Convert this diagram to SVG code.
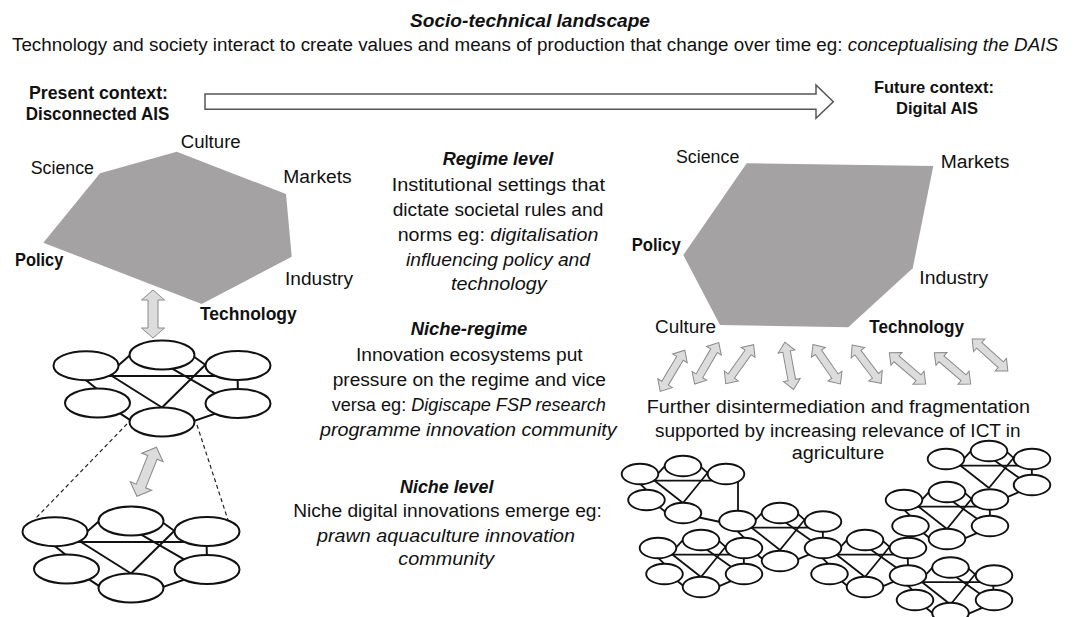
<svg xmlns="http://www.w3.org/2000/svg" xmlns:xlink="http://www.w3.org/1999/xlink" width="1077" height="617" viewBox="0 0 1077 617">
<style>
text{font-family:"Liberation Sans",Arial,sans-serif;font-size:18px;fill:#111}
.b{font-weight:bold}
.i{font-style:italic}
.bi{font-weight:bold;font-style:italic}
.m{text-anchor:middle}
.hex{fill:#a4a2a2;stroke:none}
.ln{stroke:#111;stroke-width:2;fill:none}
.lnr{stroke:#111;stroke-width:1.8;fill:none}
.el{fill:#fff;stroke:#111;stroke-width:2}
.elr{fill:#fff;stroke:#111;stroke-width:1.9}
.dash{stroke:#222;stroke-width:1.2;stroke-dasharray:4 3;fill:none}
.ga{fill:#dcdcdc;stroke:#8a8a8a;stroke-width:1}
</style>
<defs>
<g id="netL">
<g class="ln">
<line x1="-60" y1="21" x2="60" y2="21"/>
<line x1="-50" y1="16" x2="-25" y2="-6"/>
<line x1="25" y1="-3.3" x2="52" y2="16"/>
<line x1="-58" y1="16" x2="0" y2="52.5"/>
<line x1="50" y1="3.2" x2="0" y2="52.5"/>
<line x1="5" y1="10.6" x2="60" y2="42.3"/>
<line x1="-80" y1="22" x2="-60" y2="38"/>
<line x1="75.5" y1="20" x2="76" y2="40"/>
<line x1="-48" y1="54.3" x2="-25" y2="69.6"/>
<line x1="25" y1="68.4" x2="58" y2="57"/>
</g>
<g class="el">
<ellipse cx="-76" cy="10.7" rx="32.5" ry="14.5"/>
<ellipse cx="0" cy="0" rx="32.5" ry="14.5"/>
<ellipse cx="76" cy="10.5" rx="32.5" ry="14.5"/>
<ellipse cx="-64.5" cy="48" rx="32.5" ry="14.5"/>
<ellipse cx="76" cy="48.5" rx="32.5" ry="14.5"/>
<ellipse cx="0" cy="67" rx="32.5" ry="14.5"/>
</g>
</g>
<g id="rTop">
<line x1="-34" y1="14.7" x2="34" y2="14.7"/>
<line x1="-28.3" y1="11.2" x2="-14.2" y2="-4.2"/>
<line x1="14.2" y1="-2.3" x2="29.4" y2="11.2"/>
<line x1="-32.8" y1="11.2" x2="0" y2="37"/>
<line x1="28.3" y1="2.2" x2="0" y2="37"/>
</g>
<g id="rD">
<line x1="-45.3" y1="15.4" x2="-34" y2="26.6"/>
<line x1="-27.2" y1="38" x2="-14.2" y2="48.7"/>
</g>
<g id="rE">
<line x1="2.8" y1="7.4" x2="34" y2="29.6"/>
<line x1="42.7" y1="14" x2="43" y2="28"/>
<line x1="14.2" y1="47.9" x2="32.8" y2="39.9"/>
</g>
<path id="arB" d="M0,-24 L11.5,-14 L5,-14 L5,14 L11.5,14 L0,24 L-11.5,14 L-5,14 L-5,-14 L-11.5,-14 Z"/>
<path id="arS" d="M0,-24 L8.5,-14.5 L3.8,-14.5 L3.8,14.5 L8.5,14.5 L0,24 L-8.5,14.5 L-3.8,14.5 L-3.8,-14.5 L-8.5,-14.5 Z"/>
</defs>

<g id="landscape">
<text class="bi m" x="530" y="27" textLength="240" lengthAdjust="spacingAndGlyphs">Socio-technical landscape</text>
<text class="m" x="535" y="51" textLength="1046" lengthAdjust="spacingAndGlyphs">Technology and society interact to create values and means of production that change over time eg: <tspan class="i">conceptualising the DAIS</tspan></text>
</g>

<g id="present-context">
<text class="b m" x="98.5" y="99" textLength="139" lengthAdjust="spacingAndGlyphs">Present context:</text>
<text class="b m" x="97.5" y="119.5" textLength="143.6" lengthAdjust="spacingAndGlyphs">Disconnected AIS</text>
</g>
<g id="future-context">
<text class="b m" x="934" y="93" style="font-size:16.5px">Future context:</text>
<text class="b m" x="937" y="114" style="font-size:16.5px">Digital AIS</text>
</g>

<g id="connectors">
<polygon points="205,94 816,94 816,85 833.3,101.7 816,118.3 816,109.3 205,109.3" fill="#fff" stroke="#555" stroke-width="1.5"/>
<line class="dash" x1="127" y1="424" x2="35" y2="519"/>
<line class="dash" x1="197" y1="425" x2="228" y2="520"/>
<use href="#arB" class="ga" transform="translate(153,314)"/>
<use href="#arB" class="ga" transform="translate(146.7,471.7) rotate(21.8) scale(1,1.1)"/>
<use href="#arS" class="ga" transform="translate(672.5,370.8) rotate(30.9)"/>
<use href="#arS" class="ga" transform="translate(706.7,363.3) rotate(30.2)"/>
<use href="#arS" class="ga" transform="translate(739.7,364.2) rotate(35.5)"/>
<use href="#arS" class="ga" transform="translate(789.2,365.8) rotate(-10.5)"/>
<use href="#arS" class="ga" transform="translate(826.7,364.2) rotate(-34.9)"/>
<use href="#arS" class="ga" transform="translate(866.7,364.2) rotate(-37.3)"/>
<use href="#arS" class="ga" transform="translate(907.5,368.3) rotate(-49.4)"/>
<use href="#arS" class="ga" transform="translate(952.5,368.3) rotate(-49.4)"/>
<use href="#arS" class="ga" transform="translate(990,355) rotate(-48)"/>
</g>

<g id="regime-present">
<polygon class="hex" points="100,173.3 176.7,151.7 286,194 291.7,256.7 201.7,304 43.3,242.7"/>
<text x="30.7" y="174.3" textLength="63.3" lengthAdjust="spacingAndGlyphs">Science</text>
<text x="180.7" y="147.7" textLength="60" lengthAdjust="spacingAndGlyphs">Culture</text>
<text x="283.3" y="183.3" textLength="68.4" lengthAdjust="spacingAndGlyphs">Markets</text>
<text x="285" y="285" textLength="68" lengthAdjust="spacingAndGlyphs">Industry</text>
<text class="b" x="15" y="265.7" textLength="48.3" lengthAdjust="spacingAndGlyphs">Policy</text>
<text class="b" x="200" y="320" textLength="96.7" lengthAdjust="spacingAndGlyphs">Technology</text>
</g>

<g id="regime-future">
<polygon class="hex" points="746.7,163.3 933.3,166 912.7,268.3 848.3,327.3 720,325 683.3,255"/>
<text x="676" y="163.3" textLength="63.3" lengthAdjust="spacingAndGlyphs">Science</text>
<text x="940.7" y="168.3" textLength="68.6" lengthAdjust="spacingAndGlyphs">Markets</text>
<text class="b" x="631.7" y="250.7" textLength="49" lengthAdjust="spacingAndGlyphs">Policy</text>
<text x="919.3" y="284" textLength="69" lengthAdjust="spacingAndGlyphs">Industry</text>
<text x="655" y="333.3" textLength="61" lengthAdjust="spacingAndGlyphs">Culture</text>
<text class="b" x="869.3" y="333.3" textLength="94.7" lengthAdjust="spacingAndGlyphs">Technology</text>
</g>

<g id="regime-text">
<text class="bi m" x="498" y="165" textLength="110.6" lengthAdjust="spacingAndGlyphs">Regime level</text>
<text class="m" x="498.3" y="191" textLength="213.3" lengthAdjust="spacingAndGlyphs">Institutional settings that</text>
<text class="m" x="498" y="216" textLength="210.6" lengthAdjust="spacingAndGlyphs">dictate societal rules and</text>
<text class="m" x="498" y="241" textLength="200.6" lengthAdjust="spacingAndGlyphs">norms eg: <tspan class="i">digitalisation</tspan></text>
<text class="m i" x="498" y="266" textLength="184" lengthAdjust="spacingAndGlyphs">influencing policy and</text>
<text class="m i" x="498.8" y="290" textLength="95.7" lengthAdjust="spacingAndGlyphs">technology</text>
</g>

<g id="niche-regime-text">
<text class="bi m" x="469" y="335" textLength="116.6" lengthAdjust="spacingAndGlyphs">Niche-regime</text>
<text class="m" x="469.3" y="360.7" textLength="226.7" lengthAdjust="spacingAndGlyphs">Innovation ecosystems put</text>
<text class="m" x="469.3" y="386" textLength="273.3" lengthAdjust="spacingAndGlyphs">pressure on the regime and vice</text>
<text class="m" x="468.8" y="411" textLength="274.3" lengthAdjust="spacingAndGlyphs">versa eg: <tspan class="i">Digiscape FSP research</tspan></text>
<text class="m i" x="468.3" y="436" textLength="296.7" lengthAdjust="spacingAndGlyphs">programme innovation community</text>
</g>

<g id="niche-text">
<text class="bi m" x="446.7" y="492.7" textLength="93.3" lengthAdjust="spacingAndGlyphs">Niche level</text>
<text class="m" x="447.5" y="516.5" textLength="308.7" lengthAdjust="spacingAndGlyphs">Niche digital innovations emerge eg:</text>
<text class="m i" x="446" y="541.5" textLength="258" lengthAdjust="spacingAndGlyphs">prawn aquaculture innovation</text>
<text class="m i" x="446.2" y="565" textLength="95.7" lengthAdjust="spacingAndGlyphs">community</text>
</g>

<g id="future-text">
<text class="m" x="838.3" y="412.7" textLength="383.3" lengthAdjust="spacingAndGlyphs">Further disintermediation and fragmentation</text>
<text class="m" x="837.8" y="437.3" textLength="365.7" lengthAdjust="spacingAndGlyphs">supported by increasing relevance of ICT in</text>
<text class="m" x="838" y="459" textLength="92.6" lengthAdjust="spacingAndGlyphs">agriculture</text>
</g>

<g id="niche-network-present">
<use href="#netL" transform="translate(162,355)"/>
</g>
<g id="niche-network-present-lower">
<use href="#netL" transform="translate(131,521)"/>
</g>

<g id="niche-network-future">
<g class="lnr">
<g transform="translate(683,466)"><use href="#rTop"/><use href="#rD"/></g>
<line x1="738" y1="480" x2="738" y2="515"/>
<line x1="697" y1="517" x2="725" y2="523"/>
<g transform="translate(780,513)"><use href="#rTop"/><use href="#rD"/><use href="#rE"/></g>
<g transform="translate(701,540)"><use href="#rTop"/><use href="#rD"/><use href="#rE"/></g>
<g transform="translate(865,540)"><use href="#rTop"/><use href="#rD"/><use href="#rE"/></g>
<g transform="translate(950.5,567.5)"><use href="#rTop"/><use href="#rD"/><use href="#rE"/></g>
<g transform="translate(947,492)"><use href="#rTop"/><use href="#rD"/><use href="#rE"/></g>
<g transform="translate(989,451)"><use href="#rTop"/><use href="#rE"/></g>
</g>
<g class="elr">
<ellipse cx="640" cy="474" rx="18.3" ry="10.3"/>
<ellipse cx="683" cy="466" rx="18.3" ry="10.3"/>
<ellipse cx="726" cy="474" rx="18.3" ry="10.3"/>
<ellipse cx="646.5" cy="500" rx="18.3" ry="10.3"/>
<ellipse cx="683" cy="513" rx="18.3" ry="10.3"/>
<ellipse cx="737.5" cy="521" rx="18.3" ry="10.3"/>
<ellipse cx="780" cy="513" rx="18.3" ry="10.3"/>
<ellipse cx="823" cy="521.5" rx="18.3" ry="10.3"/>
<ellipse cx="823" cy="548" rx="18.3" ry="10.3"/>
<ellipse cx="780" cy="561" rx="18.3" ry="10.3"/>
<ellipse cx="658" cy="548" rx="18.3" ry="10.3"/>
<ellipse cx="701" cy="540" rx="18.3" ry="10.3"/>
<ellipse cx="744" cy="548" rx="18.3" ry="10.3"/>
<ellipse cx="664.5" cy="574" rx="18.3" ry="10.3"/>
<ellipse cx="744" cy="574" rx="18.3" ry="10.3"/>
<ellipse cx="701" cy="587" rx="18.3" ry="10.3"/>
<ellipse cx="865" cy="540" rx="18.3" ry="10.3"/>
<ellipse cx="908" cy="548" rx="18.3" ry="10.3"/>
<ellipse cx="829.5" cy="574" rx="18.3" ry="10.3"/>
<ellipse cx="908" cy="575.5" rx="18.3" ry="10.3"/>
<ellipse cx="865" cy="587" rx="18.3" ry="10.3"/>
<ellipse cx="950.5" cy="567.5" rx="18.3" ry="10.3"/>
<ellipse cx="994" cy="575.5" rx="18.3" ry="10.3"/>
<ellipse cx="915" cy="600" rx="18.3" ry="10.3"/>
<ellipse cx="994" cy="600" rx="18.3" ry="10.3"/>
<ellipse cx="950.5" cy="613" rx="18.3" ry="10.3"/>
<ellipse cx="904" cy="500" rx="18.3" ry="10.3"/>
<ellipse cx="947" cy="492" rx="18.3" ry="10.3"/>
<ellipse cx="990" cy="499.5" rx="18.3" ry="10.3"/>
<ellipse cx="910.5" cy="526" rx="18.3" ry="10.3"/>
<ellipse cx="990" cy="526" rx="18.3" ry="10.3"/>
<ellipse cx="947" cy="539" rx="18.3" ry="10.3"/>
<ellipse cx="946" cy="459" rx="18.3" ry="10.3"/>
<ellipse cx="989" cy="451" rx="18.3" ry="10.3"/>
<ellipse cx="1032" cy="459" rx="18.3" ry="10.3"/>
<ellipse cx="1032" cy="485" rx="18.3" ry="10.3"/>
</g>
</g>
</svg>
